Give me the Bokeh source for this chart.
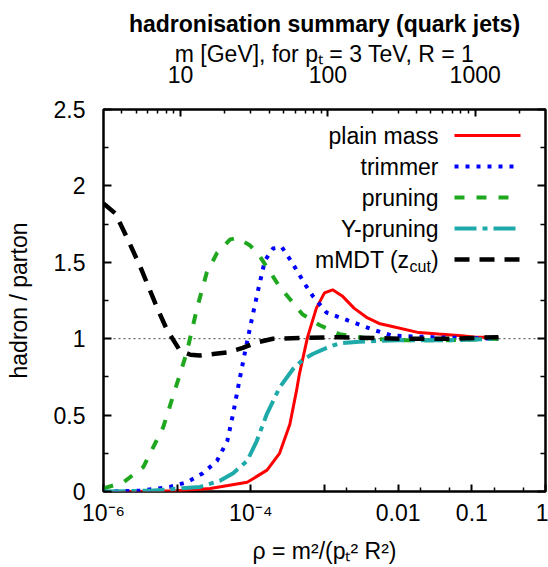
import numpy as np
from bokeh.plotting import figure
from bokeh.models import (LogAxis, LinearAxis, FixedTicker, Range1d, LogScale,
                          Span, Label, CustomJSTickFormatter)
from bokeh.embed import file_html
from bokeh.resources import INLINE

# ---------------- data (log10 rho, hadron/parton) ----------------
plain_logrho = [-6.0, -5.5, -5.0, -4.55, -4.05, -3.78, -3.61, -3.47, -3.38, -3.34, -3.23,
                -3.11, -3.00, -2.89, -2.76, -2.60, -2.43, -2.26, -2.08, -1.72, -1.45,
                -1.14, -0.95, -0.64]
plain_ratio = [0.0, 0.0, 0.005, 0.02, 0.06, 0.14, 0.25, 0.44, 0.66, 0.77, 1.01,
               1.20, 1.30, 1.32, 1.28, 1.20, 1.14, 1.10, 1.08, 1.04, 1.03,
               1.02, 1.01, 1.01]

trim_logrho = [-6.0, -5.5, -5.1, -4.87, -4.65, -4.46, -4.32, -4.24, -4.15, -4.08, -3.99,
               -3.90, -3.81, -3.70, -3.58, -3.47, -3.38, -3.27, -3.16, -2.97, -2.80,
               -2.57, -2.35, -2.08, -1.54, -0.64]
trim_ratio = [0.0, 0.005, 0.03, 0.06, 0.12, 0.20, 0.33, 0.51, 0.74, 0.91, 1.12,
              1.32, 1.51, 1.59, 1.60, 1.52, 1.45, 1.36, 1.28, 1.17, 1.14,
              1.10, 1.06, 1.02, 1.01, 1.0]

prun_logrho = [-6.0, -5.73, -5.46, -5.19, -5.0, -4.87, -4.73, -4.60, -4.46, -4.28, -4.18,
               -4.01, -3.88, -3.77, -3.61, -3.47, -3.30, -3.07, -2.80, -2.39, -1.89,
               -1.31, -0.64]
prun_ratio = [0.02, 0.06, 0.16, 0.42, 0.71, 0.91, 1.20, 1.43, 1.56, 1.65, 1.66,
              1.61, 1.54, 1.46, 1.34, 1.26, 1.16, 1.09, 1.03, 1.0, 0.99,
              0.99, 1.0]

ypru_logrho = [-6.0, -5.36, -4.69, -4.42, -4.24, -4.05, -3.92, -3.78, -3.61, -3.43, -3.30,
               -3.16, -2.97, -2.80, -2.53, -1.99, -1.31, -0.64]
ypru_ratio = [0.0, 0.005, 0.03, 0.07, 0.12, 0.20, 0.33, 0.51, 0.68, 0.80, 0.86,
              0.90, 0.94, 0.97, 0.98, 0.99, 0.99, 1.0]

mmdt_logrho = [-6.0, -5.84, -5.68, -5.5, -5.27, -5.14, -4.96, -4.82, -4.69, -4.51, -4.32,
               -4.11, -3.92, -3.70, -3.24, -2.80, -1.99, -1.31, -0.64]
mmdt_ratio = [1.885, 1.82, 1.66, 1.47, 1.20, 1.06, 0.92, 0.895, 0.89, 0.90, 0.91,
              0.94, 0.975, 1.0, 1.005, 1.01, 1.0, 1.0, 1.01]

x_tick_values = [1e-6, 1e-4, 1e-2, 1e-1, 1.0]
x_tick_labels = ["10\u207b\u2076", "10\u207b\u2074", "0.01", "0.1", "1"]
x_unlabelled_ticks = [1e-5, 1e-3]
x_minor_ticks = [2e-3, 5e-3, 2e-2, 5e-2, 0.2, 0.5]
y_tick_values = [0, 0.5, 1, 1.5, 2, 2.5]
y_minor_ticks = [0.25, 0.75, 1.25, 1.75, 2.25]
m_tick_values = [10, 100, 1000]
m_minor_ticks = [4, 5, 6, 7, 8, 9, 20, 30, 40, 50, 60, 70, 80, 90,
                 200, 300, 400, 500, 600, 700, 800, 900, 2000]

series = [
    ("plain mass", plain_logrho, plain_ratio, "#ff0000", 3, "solid"),
    ("trimmer", trim_logrho, trim_ratio, "#0000ff", 4, "4 7"),
    ("pruning", prun_logrho, prun_ratio, "#1fa81f", 4, "10 12"),
    ("Y-pruning", ypru_logrho, ypru_ratio, "#1faaaa", 4, "22 6 5 6"),
    ("mMDT", mmdt_logrho, mmdt_ratio, "#000000", 4.5, "15 10"),
]

FONT = "Liberation Sans"
FS = "23px"

# frame geometry (pixels) used to place the hand-made legend
FX0, FX1, FY0, FY1 = 103, 545, 109, 491
XMIN, XMAX, YMIN, YMAX = 1e-6, 1.0, 0.0, 2.5


def px_to_x(px):
    lo, hi = np.log10(XMIN), np.log10(XMAX)
    return 10 ** (lo + (hi - lo) * (px - FX0) / (FX1 - FX0))


def py_to_y(py):
    return YMIN + (YMAX - YMIN) * (FY1 - py) / (FY1 - FY0)


p = figure(width=548, height=567, output_backend="svg", toolbar_location=None,
           x_axis_type="log", x_range=Range1d(XMIN, XMAX), y_range=Range1d(YMIN, YMAX),
           min_border_left=FX0, min_border_right=548 - FX1,
           min_border_top=FY0, min_border_bottom=567 - FY1,
           title="hadronisation summary (quark jets)")
p.title.text_font = FONT
p.title.text_font_size = FS
p.title.text_font_style = "bold"
p.title.text_color = "black"
p.title.align = "center"
p.title.standoff = 2
p.xgrid.visible = False
p.ygrid.visible = False
p.outline_line_color = "black"
p.outline_line_width = 2.5
p.background_fill_color = "white"
p.border_fill_color = "white"

p.extra_x_ranges = {"m": Range1d(3000 * np.sqrt(XMIN), 3000 * np.sqrt(XMAX))}
p.extra_x_scales = {"m": LogScale()}


def style_axis(ax, maj=8, mnr=4):
    ax.axis_line_color = None
    ax.major_tick_in = maj
    ax.major_tick_out = 0
    ax.minor_tick_in = mnr
    ax.minor_tick_out = 0
    ax.major_tick_line_color = "black"
    ax.major_tick_line_width = 2
    ax.minor_tick_line_color = "black"
    ax.minor_tick_line_width = 1.5
    ax.major_label_text_font = FONT
    ax.major_label_text_font_size = FS
    ax.major_label_text_color = "black"
    ax.axis_label_text_font = FONT
    ax.axis_label_text_font_size = FS
    ax.axis_label_text_font_style = "normal"
    ax.axis_label_text_color = "black"


# bottom axis (labelled decades)
xa = p.xaxis[0]
xa.ticker = FixedTicker(ticks=x_tick_values, minor_ticks=x_minor_ticks)
xa.formatter = CustomJSTickFormatter(args=dict(vals=x_tick_values, labs=x_tick_labels), code="""
for (let i = 0; i < vals.length; i++) {
  if (Math.abs(Math.log10(tick) - Math.log10(vals[i])) < 1e-6) return labs[i];
}
return '';
""")
style_axis(xa, 7, 4)
xa.major_label_standoff = 8
xa.axis_label = "\u03c1 = m\u00b2/(p\u209c\u00b2 R\u00b2)"
xa.axis_label_standoff = 9

# bottom ticks without labels (adjacent to the frame)
xb = LogAxis(ticker=FixedTicker(ticks=x_unlabelled_ticks, minor_ticks=[]))
style_axis(xb, 7, 4)
xb.major_label_text_color = None
xb.major_label_standoff = 0
p.below = [xb] + list(p.below)

# left axis
ya = p.yaxis[0]
ya.ticker = FixedTicker(ticks=y_tick_values, minor_ticks=y_minor_ticks)
ya.formatter = CustomJSTickFormatter(code="return String(tick);")
style_axis(ya, 8, 5)
ya.major_label_standoff = 18
ya.axis_label = "hadron / parton"
ya.axis_label_standoff = 19

# right axis (ticks only)
ra = LinearAxis(ticker=FixedTicker(ticks=y_tick_values, minor_ticks=y_minor_ticks))
style_axis(ra, 8, 5)
ra.major_label_text_color = None
ra.major_label_standoff = 0
p.add_layout(ra, "right")

# top axis: jet mass for pt = 3 TeV, R = 1
ta = LogAxis(x_range_name="m", ticker=FixedTicker(ticks=m_tick_values, minor_ticks=m_minor_ticks))
ta.formatter = CustomJSTickFormatter(code="return String(Math.round(tick));")
style_axis(ta, 7, 4)
ta.major_label_standoff = 27
ta.axis_label = "m [GeV], for p\u209c = 3 TeV, R = 1"
ta.axis_label_standoff = -4
p.add_layout(ta, "above")

# reference line at 1
p.add_layout(Span(location=1.0, dimension="width", line_color="#444444", line_width=1,
                  line_dash="2 3", level="underlay"))

for name, lr, r, col, w, dash in series:
    xs = [10 ** v for v in lr]
    p.line(xs, r, line_color=col, line_width=w, line_dash=dash)

# hand-made legend (text left, sample line right)
row_py = [135, 166, 197, 228, 259]
text_px, line_px0, line_px1 = 438, 454, 520
for (name, lr, r, col, w, dash), py in zip(series, row_py):
    yv = py_to_y(py)
    p.line([px_to_x(line_px0), px_to_x(line_px1)], [yv, yv], line_color=col,
           line_width=w, line_dash=dash)
    if name != "mMDT":
        p.add_layout(Label(x=px_to_x(text_px), y=yv, text=name, text_align="right",
                           text_baseline="middle", text_font=FONT, text_font_size=FS,
                           text_color="black"))
    else:
        p.add_layout(Label(x=px_to_x(409), y=yv, text="mMDT (z", text_align="right",
                           text_baseline="middle", text_font=FONT, text_font_size=FS,
                           text_color="black"))
        p.add_layout(Label(x=px_to_x(409), y=yv, y_offset=-7, text="cut", text_align="left",
                           text_baseline="middle", text_font=FONT, text_font_size="16px",
                           text_color="black"))
        p.add_layout(Label(x=px_to_x(430.5), y=yv, text=")", text_align="left",
                           text_baseline="middle", text_font=FONT, text_font_size=FS,
                           text_color="black"))

open("out.html", "w").write(file_html(p, INLINE))
